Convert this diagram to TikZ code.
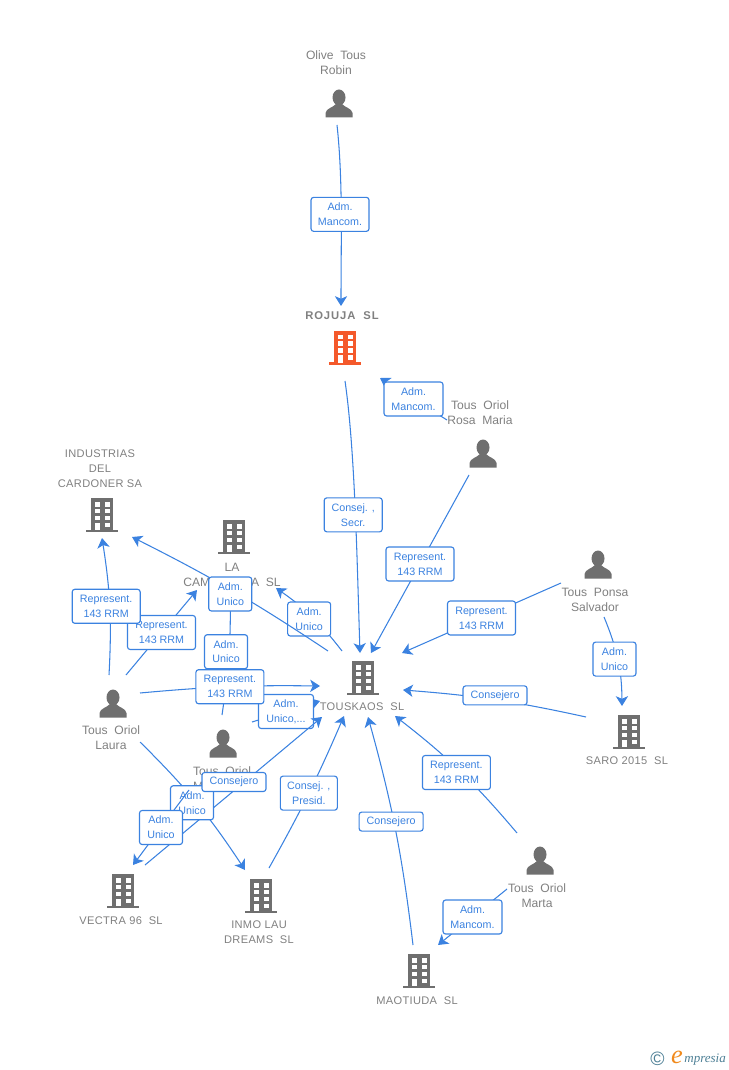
\documentclass[tikz,border=0pt]{standalone}
\usepackage{fontspec}
\setmainfont{Liberation Sans}
\newfontfamily\logofont{Liberation Serif}
\newfontfamily\namefont[WordSpace=2]{Liberation Sans}
\usetikzlibrary{arrows.meta}
\definecolor{linkblue}{HTML}{3B82E0}
\definecolor{namegray}{HTML}{808080}
\definecolor{icongray}{HTML}{6F6F6F}
\definecolor{iconorange}{HTML}{F4592B}
\definecolor{logoteal}{HTML}{4D7F95}
\definecolor{logoorange}{HTML}{F08A1D}
\tikzset{
    link/.style={linkblue, line width=0.6pt, -{Stealth[length=5.6pt,width=7pt,inset=1.5pt]}},
    tag/.style={draw=linkblue, line width=0.65pt, fill=white, rounded corners=1.5pt, text=linkblue, align=center, inner sep=0pt, font=\fontsize{6.1}{8.5}\selectfont, minimum width=#1, minimum height=0.68cm},
    tagflat/.style={tag=#1, minimum height=0.38cm},
    person name/.style={text=namegray, align=center, inner sep=0pt, font=\namefont\fontsize{6.9}{8.5}\selectfont},
    firm/.style={text=namegray, align=center, inner sep=0pt, font=\fontsize{6.3}{8.5}\selectfont\addfontfeature{LetterSpace=3}},
    firm bold/.style={firm, font=\fontsize{6.4}{8.5}\selectfont\bfseries\addfontfeature{LetterSpace=8}},
    pics/building/.style={code={
        \fill[#1] (-11,-17) rectangle (11,15);
        \fill[#1] (-16,14.5) rectangle (16,17);
        \foreach \y in {-13,-6.5,0.5} {
            \fill[white] (-7.5,\y) rectangle (-2.5,\y+4.5);
            \fill[white] (2.5,\y) rectangle (7.5,\y+4.5);
        }
        \fill[white] (-7.5,7.5) rectangle (-2.5,15);
        \fill[white] (2.5,7.5) rectangle (7.5,12);
    }},
    pics/person/.style={code={
        \fill[icongray] (0,-6.5) ellipse (6.5 and 8);
        \fill[icongray] (-13.5,13.5) -- (-13.5,9) .. controls (-13,4.5) and (-6,3.5) .. (-3,0) -- (3,0) .. controls (6,3.5) and (13,4.5) .. (13.5,9) -- (13.5,13.5) -- cycle;
    }},
}
\begin{document}
\begin{tikzpicture}[x=0.02cm,y=-0.02cm]
    \useasboundingbox (0,0) rectangle (728,1070);

    \pic at (339,104) {person};
    \pic at (483,454) {person};
    \pic at (598,565) {person};
    \pic at (113,704) {person};
    \pic at (223,744) {person};
    \pic at (540,861) {person};
    \pic at (345,348) {building=iconorange};
    \pic at (102,515) {building=icongray};
    \pic at (234,537) {building=icongray};
    \pic at (629,732) {building=icongray};
    \pic at (363,678) {building=icongray};
    \pic at (123,891) {building=icongray};
    \pic at (261,896) {building=icongray};
    \pic at (419,971) {building=icongray};

    \node[person name] (olive) at (336,63) {Olive Tous\\Robin};
    \node[firm bold] (rojuja) at (342,316) {ROJUJA\ \ SL};
    \node[person name] (rosa) at (480,413) {Tous Oriol\\Rosa Maria};
    \node[firm] (industrias) at (100,469) {INDUSTRIAS\\DEL\\CARDONER SA};
    \node[person name] (campana) at (232,574.5) {LA\\CAM\phantom{PANER}A SL};
    \node[person name] (ponsa) at (595,600) {Tous Ponsa\\Salvador};
    \node[firm] (saro) at (627,761) {SARO 2015\ \ SL};
    \node[firm] (touskaos) at (362,707) {TOUSKAOS\ \ SL};
    \node[person name] (laura) at (111,738) {Tous Oriol\\Laura};
    \node[person name] (oriolm) at (222,778.5) {Tous Oriol\\M\phantom{ontserrat}};
    \node[firm] (vectra) at (121,921) {VECTRA 96\ \ SL};
    \node[firm] (inmo) at (259,932) {INMO LAU\\DREAMS\ \ SL};
    \node[firm] (maotiuda) at (417,1001) {MAOTIUDA\ \ SL};
    \node[person name] (marta) at (537,896) {Tous Oriol\\Marta};

    \coordinate (oliveout) at (337,125);
    \coordinate (rojujain) at (341,306);
    \coordinate (rosaout) at (447,420);
    \coordinate (rojujaside) at (380,378);
    \coordinate (rojujaout) at (345,381);
    \coordinate (touskin) at (360,653);
    \coordinate (rosadown) at (469,475);
    \coordinate (touskrosa) at (371,653);
    \coordinate (ponsaout) at (561,583);
    \coordinate (touskponsa) at (402,653);
    \coordinate (ponsadown) at (604,617);
    \coordinate (saroin) at (622,706);
    \coordinate (saroout) at (586,717);
    \coordinate (touskright) at (403,690);
    \coordinate (martaup) at (517,833);
    \coordinate (touskmarta) at (395,716);
    \coordinate (maotiudaup) at (413,945);
    \coordinate (touskmao) at (368,717);
    \coordinate (martaout) at (507,889);
    \coordinate (maotiudain) at (438,945);
    \coordinate (inmoup) at (269,868);
    \coordinate (touskinmo) at (344,716);
    \coordinate (vectraup) at (145,865);
    \coordinate (touskvectra) at (322,717);
    \coordinate (lauradown) at (140,742);
    \coordinate (inmoin) at (245,870);
    \coordinate (lauraright) at (140,693);
    \coordinate (touskleft) at (320,686);
    \coordinate (oriolmright) at (252,722);
    \coordinate (touskoriol) at (320,701);
    \coordinate (lauraup) at (126,675);
    \coordinate (campanain) at (197,590);
    \coordinate (laurahigh) at (109,675);
    \coordinate (industriasin) at (102,538);
    \coordinate (touskup) at (342,651);
    \coordinate (campanaright) at (276,588);
    \coordinate (touskhigh) at (328,651);
    \coordinate (industriasright) at (132,537);
    \coordinate (oriolmup) at (222,715);
    \coordinate (campanadown) at (230,588);
    \coordinate (oriolmdown) at (189,790);
    \coordinate (vectrain) at (133,865);

    \draw[link] (oliveout) .. controls (343,180) and (341,240) .. node[tag=1.16cm, xshift=-0.7pt, yshift=-1.7pt] (admolive) {Adm.\\Mancom.} (rojujain);
    \draw[link] (rosaout) -- node[tag=1.18cm] (admrosa) {Adm.\\Mancom.} (rojujaside);
    \draw[link] (rojujaout) .. controls (355,450) and (357,560) .. node[tag=1.16cm, xshift=-1.1pt, yshift=-3.9pt] (consejsecr) {Consej. ,\\Secr.} (touskin);
    \draw[link] (rosadown) -- node[tag=1.36cm] (reprosa) {Represent.\\143 RRM} (touskrosa);
    \draw[link] (ponsaout) -- node[tag=1.36cm] (repponsa) {Represent.\\143 RRM} (touskponsa);
    \draw[link] (ponsadown) to[bend left=11] node[tag=0.86cm, xshift=-2pt, yshift=0.8pt] (admponsa) {Adm.\\Unico} (saroin);
    \draw[link] (saroout) to[bend right=4] node[tagflat=1.28cm, yshift=2.5pt] (conssaro) {Consejero} (touskright);
    \draw[link] (martaup) to[bend right=6] node[tag=1.36cm, xshift=-1.8pt, yshift=-1pt] (repmarta) {Represent.\\143 RRM} (touskmarta);
    \draw[link] (maotiudaup) to[bend right=4.3] node[tagflat=1.28cm, xshift=-2.5pt, yshift=4.8pt] (consmao) {Consejero} (touskmao);
    \draw[link] (martaout) -- node[tag=1.18cm] (admmarta) {Adm.\\Mancom.} (maotiudain);
    \draw[link] (inmoup) to[bend right=3] node[tag=1.14cm] (consejpresid) {Consej. ,\\Presid.} (touskinmo);
    \draw[link] (touskup) to[bend right=8.7] node[tag=0.86cm, xshift=-1.5pt, yshift=-1.4pt] (admtousk) {Adm.\\Unico} (campanaright);
    \draw[link] (oriolmup) to[bend right=4.7] node[tag=0.86cm, xshift=-1.7pt] (admoriol) {Adm.\\Unico} (campanadown);
    \draw[link] (touskhigh) to[bend right=3.5] node[tag=0.86cm, xshift=-1pt, yshift=-2pt] (admtouskb) {Adm.\\Unico} (industriasright);
    \draw[link] (lauraup) -- node[tag=1.36cm] (replaurab) {Represent.\\143 RRM} (campanain);
    \draw[link] (laurahigh) to[bend right=6] node[tag=1.36cm, xshift=-2pt] (replaura) {Represent.\\143 RRM} (industriasin);
    \draw[link] (oriolmright) -- node[tag=1.1cm] (admdots) {Adm.\\Unico,...} (touskoriol);
    \draw[link] (lauraright) to[bend left=3] node[tag=1.36cm] (replauram) {Represent.\\143 RRM} (touskleft);
    \draw[link] (vectraup) -- (touskvectra);
    \draw[link] (lauradown) to[bend left=6] node[tag=0.86cm, xshift=-2.5pt] (admlaura) {Adm.\\Unico} (inmoin);
    \node[tagflat=1.28cm] (consvectra) at (234,782) {Consejero};
    \draw[link] (oriolmdown) -- node[tag=0.86cm] (admvectra) {Adm.\\Unico} (vectrain);

    \node[text=logoteal, inner sep=0pt, font=\fontsize{11}{11}\selectfont] (copyr) at (657.5,1059) {©};
    \node[text=logoorange, inner sep=0pt, font=\logofont\fontsize{15}{15}\selectfont\itshape] (logoe) at (677,1057) {e};
    \node[text=logoteal, inner sep=0pt, font=\logofont\fontsize{7.4}{8}\selectfont\itshape, anchor=west] (logotext) at (684,1060) {mpresia};
\end{tikzpicture}
\end{document}
